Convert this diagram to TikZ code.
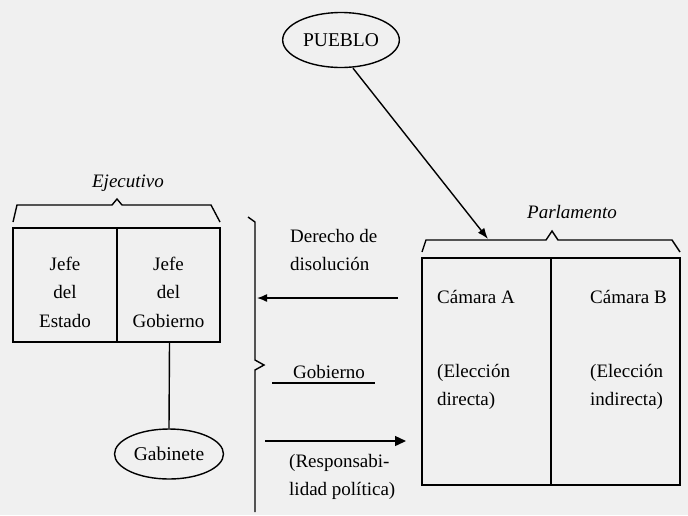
\documentclass[tikz,border=0pt]{standalone}
\usepackage{fontspec}
\setmainfont{Liberation Serif}
\usetikzlibrary{shapes.geometric,arrows.meta}

\tikzset{
  txt/.style={font=\fontsize{19}{28.5}\selectfont, inner sep=0pt},
  oval/.style={draw, ellipse, line width=1.4pt, font=\fontsize{19.5}{22}\selectfont},
  box/.style={draw, rectangle, line width=1.4pt, inner sep=0pt},
  ln/.style={line width=1.4pt}
}

\begin{document}
\begin{tikzpicture}[x=1pt, y=-1pt]
  \useasboundingbox (0,0) rectangle (688,515);
  \fill[black!6] (0,0) rectangle (688,515);

  % pueblo
  \node[oval, minimum width=112, minimum height=55] (pueblo) at (341,40) {PUEBLO};

  % ejecutivo
  \node[txt, font=\fontsize{19}{22}\selectfont\itshape] (ejec) at (128,183) {Ejecutivo};
  \draw[ln] (13,222) -- (17,205) -- (112,205) -- (117,199) -- (122,205) -- (211,205) -- (220,222);
  \node[box, minimum width=104, minimum height=114] (jefeE) at (65,285) {};
  \node[box, minimum width=103, minimum height=114] (jefeG) at (168.5,285) {};
  \node[txt, align=center] (tE) at (65,292) {Jefe\\del\\Estado};
  \node[txt, align=center] (tG) at (168.5,292) {Jefe\\del\\Gobierno};

  % gabinete
  \node[oval, minimum width=104, minimum height=50] (gab) at (169,454) {Gabinete};
  \draw[ln] (jefeG.south) ++(1,0) -- (gab.north);

  % llave central
  \draw[ln] (248,217) -- (255,222) -- (255,360) -- (264,365) -- (255,370) -- (255,512);

  % parlamento
  \node[txt, font=\fontsize{19}{22}\selectfont\itshape] (parl) at (572,212) {Parlamento};
  \draw[ln] (422,252) -- (426,240) -- (546,240) -- (552,231) -- (558,240) -- (672,240) -- (680,252);
  \coordinate (P) at (488,239);
  \node[box, minimum width=129, minimum height=227] (camA) at (486.5,371.5) {};
  \node[box, minimum width=129, minimum height=227] (camB) at (615.5,371.5) {};
  \node[txt, anchor=west] (tA) at (437,297) {Cámara A};
  \node[txt, anchor=west] (tB) at (590,297) {Cámara B};
  \node[txt, anchor=west, align=left] (eA) at (437,387) {(Elección\\directa)};
  \node[txt, anchor=west, align=left] (eB) at (590,387) {(Elección\\indirecta)};

  \draw[ln, -{Latex[length=11pt, width=8pt]}] (pueblo.south) ++(12,0) -- (P);

  % relaciones
  \node[txt, anchor=west, align=left] (der) at (290,250) {Derecho de\\disolución};
  \coordinate (D1) at (398,298);
  \coordinate (D2) at (257,298);
  \draw[ln, -{Latex[length=10pt, width=8pt]}] (D1) -- (D2);

  \node[txt] (gob) at (329,372) {Gobierno};
  \coordinate (G1) at (272,383);
  \coordinate (G2) at (375,383);
  \draw[ln] (G1) -- (G2);

  \coordinate (R1) at (265,441);
  \coordinate (R2) at (406,441);
  \draw[ln, -{Triangle[length=11pt, width=10pt]}] (R1) -- (R2);
  \node[txt, anchor=west, align=left] (resp) at (289,477) {(Responsabi-\\lidad política)};
\end{tikzpicture}
\end{document}
